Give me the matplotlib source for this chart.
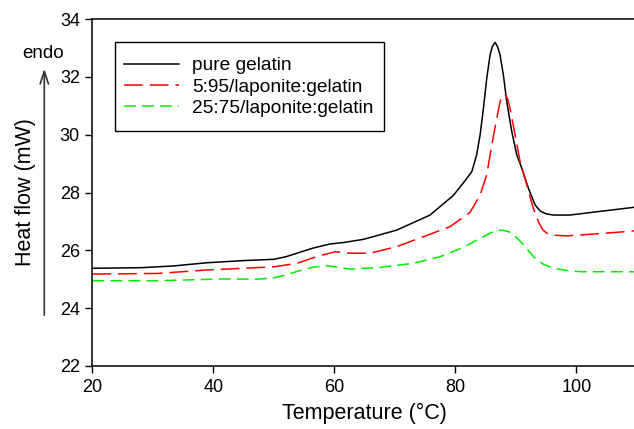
import matplotlib
matplotlib.use("Agg")
import matplotlib.pyplot as plt
from matplotlib.patches import FancyArrowPatch, Rectangle

plt.rcParams['font.family'] = ['Liberation Sans', 'DejaVu Sans']
plt.rcParams['lines.scale_dashes'] = False

# pure gelatin
t_pure = [20, 28, 33.4, 38.9, 44.5, 50, 52, 53.8, 56.5, 59.3, 61.5, 64.8, 70.3, 75.8,
          79.65, 81.3, 82.7, 83.5, 84.07, 84.62, 85.17, 85.72, 86.1, 86.55, 87.0, 87.37,
          87.92, 88.48, 89.31, 90.13, 90.96, 92.05, 93.16, 94.0, 95.0, 96.2, 98.9, 104, 110]
hf_pure = [25.38, 25.40, 25.46, 25.57, 25.64, 25.69, 25.78, 25.9, 26.08, 26.22, 26.27, 26.38, 26.7, 27.22,
           27.9, 28.33, 28.72, 29.3, 29.99, 30.91, 31.95, 32.76, 33.05, 33.19, 33.02, 32.76,
           32.06, 31.14, 30.10, 29.30, 28.84, 28.15, 27.57, 27.36, 27.26, 27.22, 27.22, 27.35, 27.5]

# 5:95 laponite:gelatin
t_5 = [20, 30.7, 38.9, 50, 53.8, 57, 60.1, 62.6, 65.9, 70.3, 74.7, 79.1, 82.4,
       84.07, 85.17, 86.0, 86.83, 87.37, 87.8, 88.2, 88.6, 89.02, 89.85, 90.68,
       91.79, 92.87, 93.7, 94.4, 95.1, 96.5, 98.4, 104, 110]
hf_5 = [25.18, 25.2, 25.32, 25.43, 25.55, 25.78, 25.95, 25.9, 25.9, 26.13, 26.47, 26.82, 27.31,
        27.91, 28.61, 29.64, 30.57, 31.14, 31.33, 31.39, 31.25, 30.91, 29.99, 29.07,
        28.26, 27.45, 26.99, 26.72, 26.59, 26.52, 26.50, 26.58, 26.68]

# 25:75 laponite:gelatin
t_25 = [20, 30.7, 41.7, 47.2, 50, 52, 53.8, 56.5, 58.7, 60.5, 62.6, 67.5, 73, 77.45,
        81.3, 84.1, 86.2, 87.65, 88.6, 89.3, 90.4, 91.5, 92.9, 94.5, 96.2, 98.5, 100.7, 110]
hf_25 = [24.95, 24.95, 25.01, 25.0, 25.05, 25.15, 25.27, 25.42, 25.47, 25.42, 25.35, 25.41, 25.55, 25.78,
         26.1, 26.42, 26.64, 26.70, 26.66, 26.59, 26.38, 26.13, 25.78, 25.52, 25.38, 25.3, 25.26, 25.26]

fig = plt.figure(figsize=(6.34, 4.29), dpi=100)
ax = fig.add_axes([92.4 / 634, 63 / 429, (637 - 92.4) / 634, 347 / 429])

ax.plot(t_pure, hf_pure, color='black', lw=1.1, label='pure gelatin')
ax.plot(t_5, hf_5, color='#ff0000', lw=1.1, linestyle=(0, (13.5, 5)), label='5:95/laponite:gelatin')
ax.plot(t_25, hf_25, color='#00ee00', lw=1.1, linestyle=(0, (8.5, 4.5)), label='25:75/laponite:gelatin')

ax.set_xlim(20, 110)
ax.set_ylim(22, 34)
ax.set_xticks([20, 40, 60, 80, 100])
ax.set_yticks([22, 24, 26, 28, 30, 32, 34])
ax.tick_params(direction='out', length=5, width=1, labelsize=13, pad=4)
for s in ax.spines.values():
    s.set_linewidth(1.1)
ax.spines['right'].set_visible(False)

ax.set_xlabel('Temperature (°C)', fontsize=15.5, labelpad=5)
ax.set_ylabel('Heat flow (mW)', fontsize=15.5, labelpad=17)

# legend without its own frame, box drawn separately
leg = ax.legend(loc='upper left', bbox_to_anchor=(124 / 634, 1 - 57 / 429),
                bbox_transform=fig.transFigure, borderaxespad=0, borderpad=0,
                fontsize=13.8, frameon=False, handlelength=2.87, handletextpad=0.68,
                labelspacing=0.2)
fig.patches.append(Rectangle((115 / 634, 1 - 131 / 429), 269 / 634, 89 / 429,
                             transform=fig.transFigure, fill=False,
                             edgecolor='black', lw=1.0))

# endo arrow
fig.patches.append(FancyArrowPatch(
    (44.3 / 634, 1 - 318 / 429), (44.3 / 634, 1 - 66 / 429),
    transform=fig.transFigure, arrowstyle='->,head_length=9,head_width=3',
    color='#333333', lw=1.2, mutation_scale=1))
fig.text(43 / 634, 1 - 54 / 429, 'endo', ha='center', va='center', fontsize=13.5)

fig.savefig('out.png', dpi=100)
